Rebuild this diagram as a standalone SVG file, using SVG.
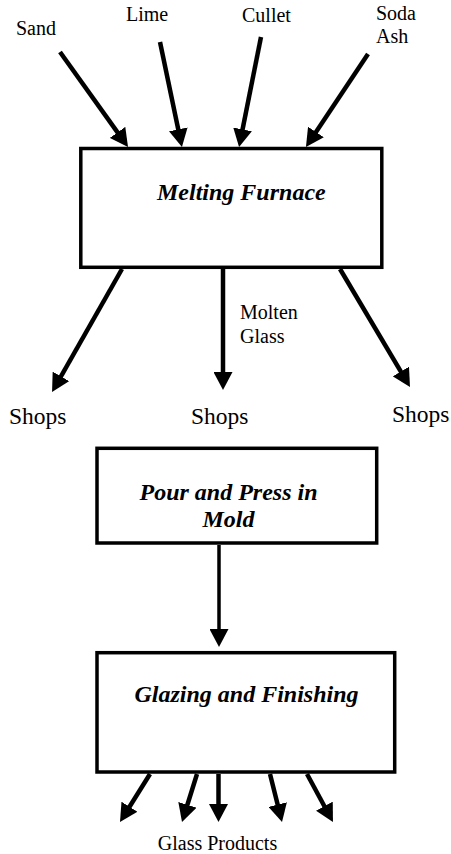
<svg xmlns="http://www.w3.org/2000/svg" width="451" height="854" viewBox="0 0 451 854">
<style>
.box{fill:#fff;stroke:#000;stroke-width:3.5}
.arr{stroke:#000;stroke-width:4.5;fill:none;marker-end:url(#ah)}
.thin{stroke-width:3.5}
text{font-family:'Liberation Serif','Times New Roman','DejaVu Serif',serif;fill:#000}
.lbl{font-size:20px}
.shop{font-size:23.5px}
.title{font-size:24px;font-weight:bold;font-style:italic}
</style>
<defs>
<marker id="ah" viewBox="0 0 18 19" markerWidth="18" markerHeight="19" refX="8" refY="9.5" orient="auto" markerUnits="userSpaceOnUse">
<path d="M0,0 L18,9.5 L0,19 z" fill="#000"/>
</marker>
</defs>
<g id="connectors">
<line class="arr" x1="60" y1="52" x2="122.2" y2="138.9"/>
<line class="arr" x1="160" y1="42" x2="179.9" y2="137.2"/>
<line class="arr" x1="261" y1="37" x2="241" y2="137.2"/>
<line class="arr" x1="368" y1="54" x2="311.5" y2="138.7"/>
<line class="arr" x1="122" y1="269" x2="57" y2="383.3"/>
<line class="arr" x1="223" y1="269" x2="223" y2="380"/>
<line class="arr" x1="340" y1="269" x2="404.9" y2="378.4"/>
<line class="arr thin" x1="219" y1="545" x2="219" y2="637"/>
<line class="arr" x1="150" y1="774" x2="125.3" y2="813.5"/>
<line class="arr" x1="197" y1="774" x2="185" y2="812.5"/>
<line class="arr" x1="218.5" y1="774" x2="218.5" y2="812"/>
<line class="arr" x1="270" y1="774" x2="279.6" y2="812.3"/>
<line class="arr" x1="307" y1="774" x2="328.2" y2="813.2"/>
</g>
<g id="sand"><text class="lbl" x="16" y="35">Sand</text></g>
<g id="lime"><text class="lbl" x="126" y="21">Lime</text></g>
<g id="cullet"><text class="lbl" x="242" y="22">Cullet</text></g>
<g id="soda-ash"><text class="lbl" x="376" y="20">Soda</text><text class="lbl" x="376" y="43">Ash</text></g>
<g id="melting-furnace">
<rect class="box" x="80.8" y="148.5" width="301" height="118.8"/>
<text class="title" x="157" y="200">Melting Furnace</text>
</g>
<g id="molten-glass"><text class="lbl" x="240" y="319">Molten</text><text class="lbl" x="240" y="343">Glass</text></g>
<g id="shops-left"><text class="shop" x="9" y="424">Shops</text></g>
<g id="shops-mid"><text class="shop" x="191" y="424">Shops</text></g>
<g id="shops-right"><text class="shop" x="392" y="422">Shops</text></g>
<g id="pour-press">
<rect class="box" x="97" y="448.3" width="279.7" height="94.7"/>
<text class="title" x="228.5" y="500" text-anchor="middle">Pour and Press in</text>
<text class="title" x="228.5" y="527" text-anchor="middle">Mold</text>
</g>
<g id="glazing">
<rect class="box" x="97" y="652.7" width="297.7" height="119.3"/>
<text class="title" x="246.5" y="702" text-anchor="middle">Glazing and Finishing</text>
</g>
<g id="glass-products"><text class="lbl" x="217.5" y="850" text-anchor="middle">Glass Products</text></g>
</svg>
